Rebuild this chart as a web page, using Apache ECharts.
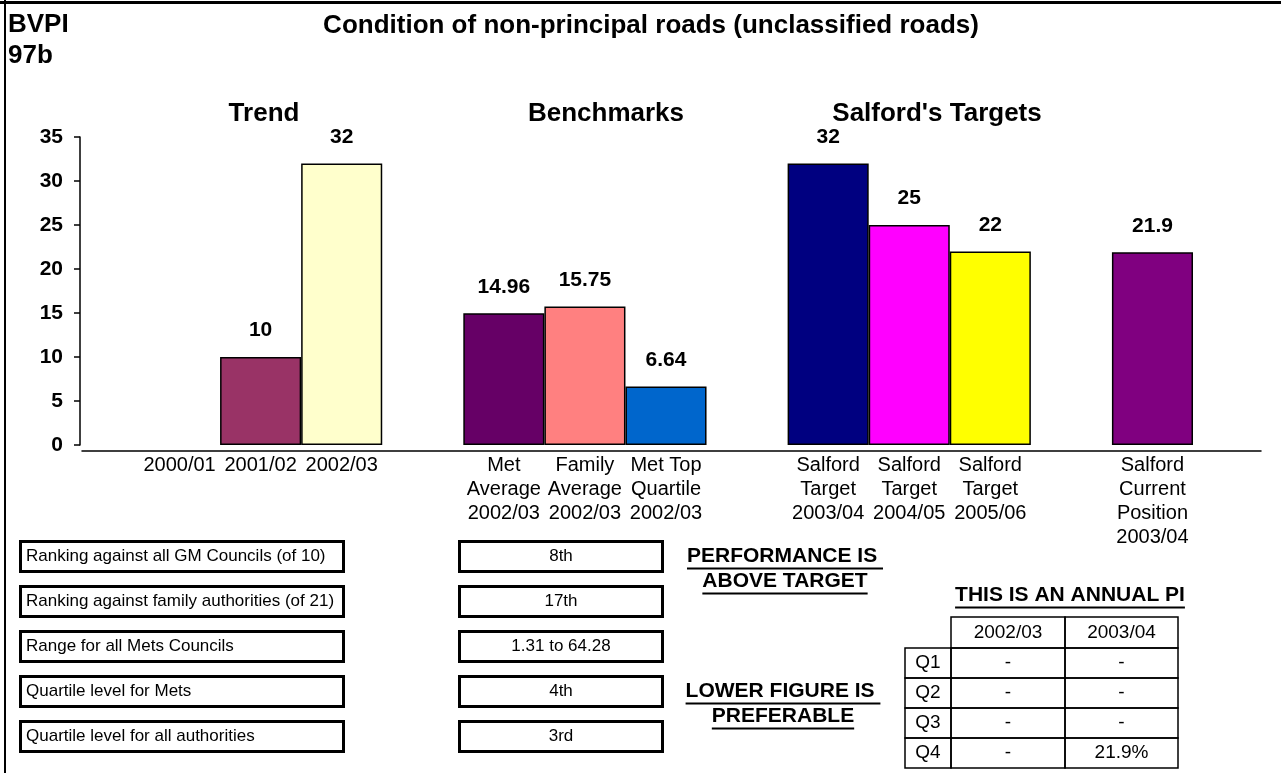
<!DOCTYPE html>
<html>
<head>
<meta charset="utf-8">
<script src="https://cdn.jsdelivr.net/npm/echarts/dist/echarts.min.js"></script>
<style>
  html, body { margin: 0; padding: 0; background: #fff; }
  #main { width: 1281px; height: 773px; }
</style>
</head>
<body>
<div id="main"></div>
<script>
// chart data
var categories = [
  '2000/01', '2001/02', '2002/03', '',
  'Met\nAverage\n2002/03', 'Family\nAverage\n2002/03', 'Met Top\nQuartile\n2002/03', '',
  'Salford\nTarget\n2003/04', 'Salford\nTarget\n2004/05', 'Salford\nTarget\n2005/06', '',
  'Salford\nCurrent\nPosition\n2003/04'
];
var values = [null, 10, 32, null, 14.96, 15.75, 6.64, null, 32, 25, 22, null, 21.9];
var barColors = [
  '#ffffff', '#993366', '#ffffcc', '#ffffff',
  '#660066', '#ff8080', '#0066cc', '#ffffff',
  '#000080', '#ff00ff', '#ffff00', '#ffffff',
  '#800080'
];
var yTicks = [0, 5, 10, 15, 20, 25, 30, 35];

// boxes under the chart
var infoLabels = [
  'Ranking against all GM Councils (of 10)',
  'Ranking against family authorities (of 21)',
  'Range for all Mets Councils',
  'Quartile level for Mets',
  'Quartile level for all authorities'
];
var infoValues = ['8th', '17th', '1.31 to 64.28', '4th', '3rd'];

// quarterly table
var tableYears = ['2002/03', '2003/04'];
var quarters = ['Q1', 'Q2', 'Q3', 'Q4'];
var quarterValues = [['-', '-'], ['-', '-'], ['-', '-'], ['-', '21.9%']];

var FONT = "'Liberation Sans', Arial, sans-serif";

function textWidth(str, font) {
  var ctx = document.createElement('canvas').getContext('2d');
  ctx.font = font;
  return ctx.measureText(str).width;
}

var chartDom = document.getElementById('main');
var myChart = echarts.init(chartDom);

var graphics = [];

// page frame
graphics.push({ type: 'line', shape: { x1: 0, y1: 2.5, x2: 1281, y2: 2.5 }, style: { stroke: '#000', lineWidth: 3 } });
graphics.push({ type: 'line', shape: { x1: 5, y1: 0, x2: 5, y2: 773 }, style: { stroke: '#000', lineWidth: 2 } });

function addText(txt, x, y, size, weight, align) {
  graphics.push({
    type: 'text', x: x, y: y,
    style: {
      text: txt, fill: '#000', font: weight + ' ' + size + 'px ' + FONT,
      textAlign: align || 'center', textVerticalAlign: 'middle'
    }
  });
}

function addUnderlined(txt, cx, y, size) {
  addText(txt, cx, y, size, 'bold', 'center');
  var w = textWidth(txt, 'bold ' + size + 'px ' + FONT);
  graphics.push({
    type: 'line',
    shape: { x1: cx - w / 2, y1: y + size * 0.6, x2: cx + w / 2, y2: y + size * 0.6 },
    style: { stroke: '#000', lineWidth: 2 }
  });
}

// headings
addText('BVPI', 8, 25, 26, 'bold', 'left');
addText('97b', 8, 56, 26, 'bold', 'left');
addText('Condition of non-principal roads (unclassified roads)', 651, 26, 26, 'bold');
addText('Trend', 264, 114, 26, 'bold');
addText('Benchmarks', 606, 114, 26, 'bold');
addText("Salford's Targets", 937, 114, 26, 'bold');

// info boxes
infoLabels.forEach(function (lbl, i) {
  var y = 541.5 + i * 45;
  graphics.push({ type: 'rect', shape: { x: 20.5, y: y, width: 323, height: 30 }, style: { fill: '#fff', stroke: '#000', lineWidth: 3 } });
  graphics.push({ type: 'rect', shape: { x: 459.5, y: y, width: 203, height: 30 }, style: { fill: '#fff', stroke: '#000', lineWidth: 3 } });
  addText(lbl, 26, y + 15, 17, 'normal', 'left');
  addText(infoValues[i], 561, y + 15, 17, 'normal', 'center');
});

// notes
addUnderlined('PERFORMANCE IS ', 785, 556, 21);
addUnderlined('ABOVE TARGET', 785, 581, 21);
addUnderlined('LOWER FIGURE IS ', 783, 691, 21);
addUnderlined('PREFERABLE', 783, 716, 21);
addUnderlined('THIS IS AN ANNUAL PI', 1070, 595, 21);

// table
var colX = [951, 1065, 1178];
var qX = 905;
var headTop = 617, headBottom = 648, rowH = 30;
tableYears.forEach(function (yr, j) {
  graphics.push({ type: 'rect', shape: { x: colX[j], y: headTop, width: colX[j + 1] - colX[j], height: headBottom - headTop }, style: { fill: 'none', stroke: '#000', lineWidth: 1.5 } });
  addText(yr, (colX[j] + colX[j + 1]) / 2, (headTop + headBottom) / 2, 19, 'normal');
});
quarters.forEach(function (q, i) {
  var y = headBottom + i * rowH;
  graphics.push({ type: 'rect', shape: { x: qX, y: y, width: colX[0] - qX, height: rowH }, style: { fill: 'none', stroke: '#000', lineWidth: 1.5 } });
  addText(q, (qX + colX[0]) / 2, y + rowH / 2, 19, 'normal');
  quarterValues[i].forEach(function (v, j) {
    graphics.push({ type: 'rect', shape: { x: colX[j], y: y, width: colX[j + 1] - colX[j], height: rowH }, style: { fill: 'none', stroke: '#000', lineWidth: 1.5 } });
    addText(v, (colX[j] + colX[j + 1]) / 2, y + rowH / 2, 19, 'normal');
  });
});

var option = {
  backgroundColor: '#fff',
  animation: false,
  textStyle: { fontFamily: FONT },
  grid: [
    { left: 139, right: 88, top: 137, bottom: 328 },
    // only used for the long base line under the categories
    { left: 82, right: 20, top: 137, bottom: 322 }
  ],
  xAxis: [
    {
      type: 'category',
      gridIndex: 0,
      data: categories,
      axisLine: { show: false },
      axisTick: { show: false },
      axisLabel: {
        interval: 0, margin: 8, color: '#000',
        fontSize: 20, lineHeight: 24, fontFamily: FONT
      }
    },
    {
      type: 'value',
      gridIndex: 1,
      axisLine: { show: true, lineStyle: { color: '#000', width: 1.5 } },
      axisTick: { show: false },
      axisLabel: { show: false },
      splitLine: { show: false }
    }
  ],
  yAxis: [
    {
      type: 'value',
      gridIndex: 0,
      min: yTicks[0],
      max: yTicks[yTicks.length - 1],
      interval: 5,
      offset: 59,
      axisLine: { show: true, lineStyle: { color: '#000', width: 1.5 } },
      axisTick: { show: true, length: 6, lineStyle: { color: '#000', width: 1.5 } },
      axisLabel: { color: '#000', fontSize: 21, fontWeight: 'bold', margin: 17, fontFamily: FONT },
      splitLine: { show: false }
    },
    { type: 'value', gridIndex: 1, show: false }
  ],
  series: [
    {
      type: 'bar',
      xAxisIndex: 0,
      yAxisIndex: 0,
      barCategoryGap: '0%',
      data: values.map(function (v, i) {
        return { value: v, itemStyle: { color: barColors[i] } };
      }),
      itemStyle: { borderColor: '#000', borderWidth: 1.5 },
      label: {
        show: true, position: 'top', distance: 16,
        color: '#000', fontSize: 21, fontWeight: 'bold', fontFamily: FONT
      }
    }
  ],
  graphic: graphics
};

option && myChart.setOption(option);
</script>
</body>
</html>
